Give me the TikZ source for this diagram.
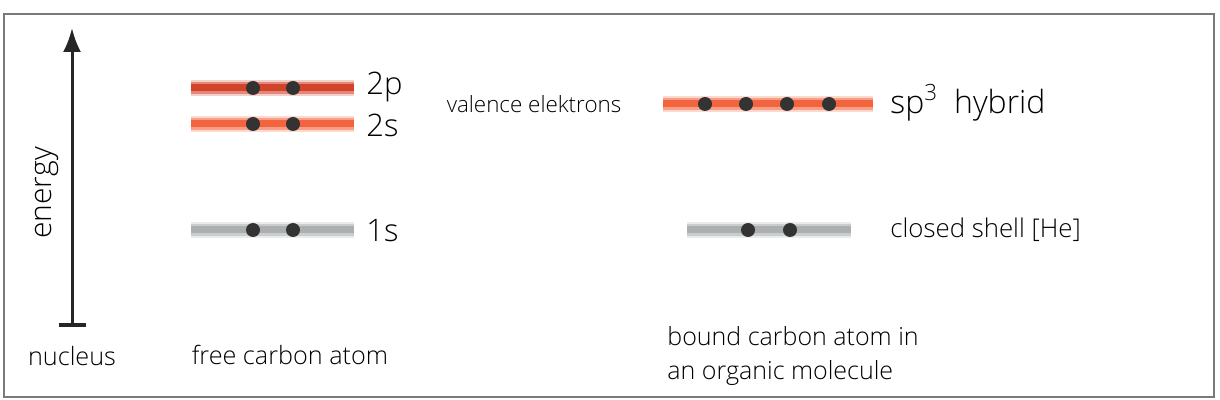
\documentclass[tikz,border=0pt]{standalone}
\usepackage{fontspec}
\setmainfont{Open Sans}[UprightFont=* Light]
\usepackage{tikz}
\usetikzlibrary{positioning, arrows.meta}
\definecolor{framegray}{HTML}{7A7A7A}
\definecolor{pdark}{HTML}{D2432C}
\definecolor{slight}{HTML}{F2643E}
\definecolor{shellgray}{HTML}{ABAFAF}
\definecolor{dotgray}{HTML}{333333}
\tikzstyle{levelglow} = [line width=8pt, opacity=0.25]
\tikzstyle{levelmid} = [line width=6pt, opacity=0.5]
\tikzstyle{levelcore} = [line width=3.5pt]
\tikzstyle{electron} = [circle, fill=dotgray, inner sep=0pt, minimum size=7pt]
\tikzstyle{biglabel} = [anchor=west, inner sep=0pt, font=\fontsize{15.5}{17}\selectfont]
\tikzstyle{midlabel} = [inner sep=0pt, font=\fontsize{12.6}{16}\selectfont]
\tikzstyle{smalllabel} = [inner sep=0pt, font=\fontsize{11.2}{13}\selectfont]
\tikzstyle{arrow} = [line width=1.5pt, draw=black!85, -{Latex[length=12pt, width=9pt]}]

\begin{document}
\begin{tikzpicture}[x=0.5pt, y=-0.5pt]
        \useasboundingbox (0,0) rectangle (1220,400);
        \draw [framegray, line width=1pt] (4,14) rectangle (1214,397);

        % energy axis
        \coordinate (top) at (72,28);
        \node (base) [draw=black!85, fill=black!85, minimum width=13pt, minimum height=1.5pt, inner sep=0pt] at (72,325) {};
        \draw [arrow] (base.center) -- (top);
        \node (energy) [midlabel, rotate=90, font=\fontsize{15}{17}\selectfont] at (47,193) {energy};
        \node (nucleus) [midlabel] at (72,356) {nucleus};

        % free carbon atom
        \foreach \y/\c in {88/pdark, 124/slight, 230/shellgray} {
            \draw [levelglow, \c] (191,\y) -- (354,\y);
            \draw [levelmid, \c] (191,\y) -- (354,\y);
            \draw [levelcore, \c] (191,\y) -- (354,\y);
        }
        \foreach \y/\n in {88/p, 124/s, 230/c} {
            \node (e\n1) [electron] at (253,\y) {};
            \node (e\n2) [electron] at (293,\y) {};
        }
        \node (twop) [biglabel] at (366,87) {2p};
        \node (twos) [biglabel] at (366,125) {2s};
        \node (ones) [biglabel] at (366,231) {1s};
        \node (free) [midlabel] at (290,355) {free carbon atom};

        \node (valence) [smalllabel] at (534,104) {valence elektrons};

        % bound carbon atom
        \draw [levelglow, slight] (663,104) -- (873,104);
        \draw [levelmid, slight] (663,104) -- (873,104);
        \draw [levelcore, slight] (663,104) -- (873,104);
        \foreach \x [count=\i] in {705,746,787,829}
            \node (h\i) [electron] at (\x,104) {};
        \node (hybrid) [biglabel, font=\fontsize{16}{18}\selectfont] at (890,103) {sp\textsuperscript{3}\hspace{0.5em}hybrid};

        \draw [levelglow, shellgray] (687,230) -- (851,230);
        \draw [levelmid, shellgray] (687,230) -- (851,230);
        \draw [levelcore, shellgray] (687,230) -- (851,230);
        \node (k1) [electron] at (748,230) {};
        \node (k2) [electron] at (790,230) {};
        \node (closed) [smalllabel, anchor=west, font=\fontsize{12.9}{14}\selectfont] at (890,230) {closed shell [He]};
        \node (bound) [midlabel, anchor=north west, align=left, font=\fontsize{12.5}{17}\selectfont] at (667,326) {bound carbon atom in\\an organic molecule};
    \end{tikzpicture}
\end{document}
